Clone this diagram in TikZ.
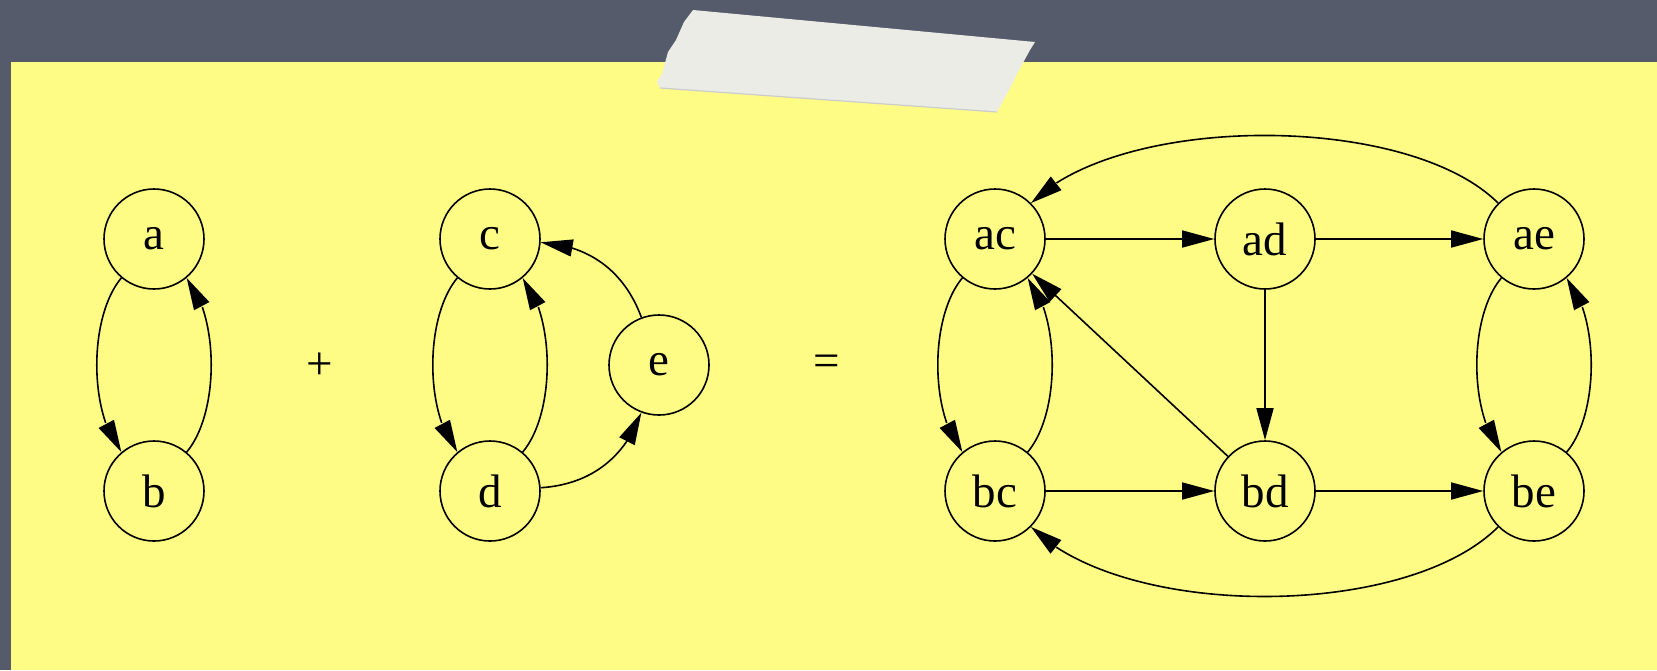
\documentclass[tikz,border=0pt]{standalone}
\usepackage{fontspec}
\setmainfont{Liberation Serif}
\usepackage{tikz}
\usetikzlibrary{arrows.meta,bending,shapes,calc}
\usepackage{xcolor}

\definecolor{board}{RGB}{86,91,107}
\definecolor{note}{RGB}{255,252,134}
\definecolor{tape}{RGB}{236,236,231}

\tikzset{
    vertex/.style={circle, draw, line width=0.8pt, minimum size=50pt, inner sep=0pt,
        font=\fontsize{23.5}{28}\selectfont},
    edge/.style={line width=0.8pt, -{Triangle[length=16pt,width=8.5pt,flex]}},
    arc/.style={edge, bend right=40, looseness=0.75}
}

\begin{document}
\begin{tikzpicture}[x=0.5pt,y=-0.5pt]
    % Board and sticky note
    \fill[board] (0,0) rectangle (1657,670);
    \useasboundingbox (0,0) rectangle (1657,670);
    \fill[note] (11,62) rectangle (1657,670);

    % Tape strip
    \fill[tape] (693,10) -- (1035,42) -- (1030,50) -- (1018,72) -- (1010,88) -- (997,112)
        -- (660,88) -- (657,82) -- (662,74) -- (668,52) -- (676,40) -- (684,22) -- cycle;
    \draw[black!20, line width=0.6pt] (660,88) -- (997,112);

    % First graph
    \node[vertex] (a) at (154,239) {a};
    \node[vertex] (b) at (154,491) {b};
    \draw[arc] (a) to (b);
    \draw[arc] (b) to (a);

    \node[font=\fontsize{23.5}{28}\selectfont] (plus) at (320,366) {+};

    % Second graph
    \node[vertex] (c) at (490,239) {c};
    \node[vertex] (d) at (490,491) {d};
    \node[vertex] (e) at (659,365) {e};
    \draw[arc] (c) to (d);
    \draw[arc] (d) to (c);
    \draw[edge, bend right=33] (e) to (c);
    \draw[edge, bend right=33] (d) to (e);

    \node[font=\fontsize{23.5}{28}\selectfont] (eq) at (827,366) {=};

    % Product graph
    \node[vertex] (ac) at (995,239) {ac};
    \node[vertex] (ad) at (1265,239) {ad};
    \node[vertex] (ae) at (1534,239) {ae};
    \node[vertex] (bc) at (995,491) {bc};
    \node[vertex] (bd) at (1265,491) {bd};
    \node[vertex] (be) at (1534,491) {be};

    \draw[edge] (ac) -- (ad);
    \draw[edge] (ad) -- (ae);
    \draw[edge] (bc) -- (bd);
    \draw[edge] (bd) -- (be);
    \draw[edge] (ad) -- (bd);
    \draw[edge] (bd) -- (ac);
    \draw[arc] (ac) to (bc);
    \draw[arc] (bc) to (ac);
    \draw[arc] (ae) to (be);
    \draw[arc] (be) to (ae);
    \draw[edge, bend right=45, looseness=0.7] (ae) to (ac);
    \draw[edge, bend left=45, looseness=0.72] (be) to (bc);
\end{tikzpicture}
\end{document}
